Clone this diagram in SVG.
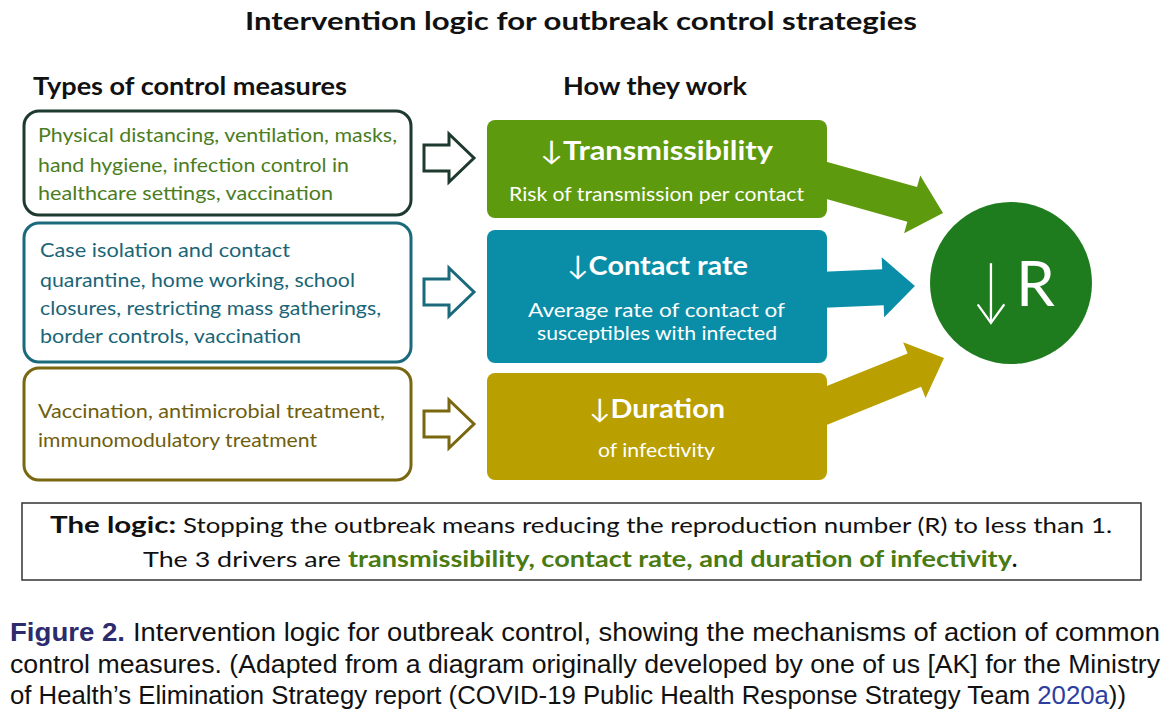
<svg xmlns="http://www.w3.org/2000/svg" width="1170" height="717" viewBox="0 0 1170 717">
<style>
.f{font-family:Lato,"Liberation Sans",sans-serif}
.hd{font-family:Lato,"Liberation Sans",sans-serif;font-weight:bold;font-size:24px;fill:#111}
.lb{fill:#fff;stroke-width:3}
.lt{font-family:Lato,"Liberation Sans",sans-serif;font-size:19px}
.mt{font-family:Lato,"Liberation Sans",sans-serif;font-weight:bold;font-size:27px;fill:#fff}
.ms{font-family:Lato,"Liberation Sans",sans-serif;font-size:19px;fill:#fff}
.ha{fill:#fff;stroke-width:3;stroke-linejoin:miter}
.lg{font-family:Lato,"Liberation Sans",sans-serif;font-size:22px;fill:#111}
.lgg{font-family:Lato,"Liberation Sans",sans-serif;font-size:22px;font-weight:bold;fill:#4a7a12}
.cp{font-family:"Liberation Sans",sans-serif;font-size:25px;fill:#111}
.cpf{font-family:"Liberation Sans",sans-serif;font-size:25px;font-weight:bold;fill:#2b2b6e}
.blue{fill:#2d3ea0}
</style>
<rect width="1170" height="717" fill="#fff"/>
<text class="hd" x="245" y="30" textLength="672" lengthAdjust="spacingAndGlyphs">Intervention logic for outbreak control strategies</text>
<text class="hd" x="33" y="95" textLength="314" lengthAdjust="spacingAndGlyphs">Types of control measures</text>
<text class="hd" x="563" y="95" textLength="184" lengthAdjust="spacingAndGlyphs">How they work</text>

<g id="connectors">
<polygon points="0,-18 97.8,-18 97.8,-30 129.8,0 97.8,30 97.8,18 0,18" fill="#5e9a0e" transform="translate(818,178) rotate(15.6)"/>
<polygon points="0,-18 65,-18 65,-30 97,0 65,30 65,18 0,18" fill="#0a8ea8" transform="translate(818,290) rotate(-2.36)"/>
<polygon points="0,-18 103.9,-18 103.9,-30 135.9,0 103.9,30 103.9,18 0,18" fill="#b9a000" transform="translate(818,409) rotate(-22)"/>
<polygon class="ha" stroke="#1e3a2e" points="424,145 449,145 449,134 474,158 449,182 449,171 424,171"/>
<polygon class="ha" stroke="#1a6a7c" points="424,279 449,279 449,268 474,292 449,316 449,305 424,305"/>
<polygon class="ha" stroke="#7a6810" points="424,411 449,411 449,400 474,424 449,448 449,437 424,437"/>
</g>

<g id="measures-transmissibility">
<rect class="lb" stroke="#1e3a2e" x="24" y="111" width="387" height="104" rx="15"/>
<text class="lt" fill="#4b7d1e"><tspan x="38" y="142" textLength="359" lengthAdjust="spacingAndGlyphs">Physical distancing, ventilation, masks,</tspan><tspan x="38" y="172" textLength="311" lengthAdjust="spacingAndGlyphs">hand hygiene, infection control in</tspan><tspan x="38" y="200" textLength="295" lengthAdjust="spacingAndGlyphs">healthcare settings, vaccination</tspan></text>
</g>
<g id="measures-contact">
<rect class="lb" stroke="#1a6a7c" x="24" y="223" width="387" height="139" rx="15"/>
<text class="lt" fill="#1a6577"><tspan x="40" y="257" textLength="250" lengthAdjust="spacingAndGlyphs">Case isolation and contact</tspan><tspan x="40" y="287" textLength="315" lengthAdjust="spacingAndGlyphs">quarantine, home working, school</tspan><tspan x="40" y="315" textLength="341" lengthAdjust="spacingAndGlyphs">closures, restricting mass gatherings,</tspan><tspan x="40" y="343" textLength="261" lengthAdjust="spacingAndGlyphs">border controls, vaccination</tspan></text>
</g>
<g id="measures-duration">
<rect class="lb" stroke="#7a6810" x="24" y="368" width="387" height="112" rx="15"/>
<text class="lt" fill="#6e5e10"><tspan x="38" y="418" textLength="347" lengthAdjust="spacingAndGlyphs">Vaccination, antimicrobial treatment,</tspan><tspan x="38" y="447" textLength="279" lengthAdjust="spacingAndGlyphs">immunomodulatory treatment</tspan></text>
</g>

<g id="transmissibility">
<rect x="487" y="120" width="340" height="98" rx="8" fill="#5e9a0e"/>
<text class="mt" x="540" y="160" textLength="233" lengthAdjust="spacingAndGlyphs"><tspan font-weight="normal">↓</tspan>Transmissibility</text>
<text class="ms" x="509" y="201" textLength="295" lengthAdjust="spacingAndGlyphs">Risk of transmission per contact</text>
</g>
<g id="contact-rate">
<rect x="487" y="230" width="340" height="133" rx="8" fill="#0a8ea8"/>
<text class="mt" x="567" y="275" textLength="181" lengthAdjust="spacingAndGlyphs"><tspan font-weight="normal">↓</tspan>Contact rate</text>
<text class="ms" x="528" y="317" textLength="257" lengthAdjust="spacingAndGlyphs">Average rate of contact of</text>
<text class="ms" x="537" y="340" textLength="240" lengthAdjust="spacingAndGlyphs">susceptibles with infected</text>
</g>
<g id="duration">
<rect x="487" y="373" width="340" height="107" rx="8" fill="#b9a000"/>
<text class="mt" x="589" y="418" textLength="136" lengthAdjust="spacingAndGlyphs"><tspan font-weight="normal">↓</tspan>Duration</text>
<text class="ms" x="598" y="457" textLength="117" lengthAdjust="spacingAndGlyphs">of infectivity</text>
</g>
<g id="reduce-r">
<circle cx="1011" cy="283" r="81" fill="#1e7c1e"/>
<text class="f" transform="translate(991,313) scale(1.15,1.6)" font-size="44" font-weight="300" fill="#fff" text-anchor="middle">↓</text>
<text class="f" x="1016" y="306" font-size="62" fill="#fff">R</text>
</g>

<g id="logic">
<rect x="22" y="503" width="1119" height="77" fill="#fff" stroke="#333" stroke-width="1.5"/>
<text class="lg" x="50" y="533" font-weight="bold" textLength="126" lengthAdjust="spacingAndGlyphs">The logic:</text>
<text class="lg" x="183" y="533" textLength="929" lengthAdjust="spacingAndGlyphs">Stopping the outbreak means reducing the reproduction number (R) to less than 1.</text>
<text class="lg" x="143" y="567" textLength="198" lengthAdjust="spacingAndGlyphs">The 3 drivers are</text>
<text class="lgg" x="348" y="567" textLength="664" lengthAdjust="spacingAndGlyphs">transmissibility, contact rate, and duration of infectivity</text>
<text class="lg" x="1012" y="567" font-weight="bold">.</text>
</g>

<g id="caption">
<text class="cpf" x="10" y="641" textLength="115" lengthAdjust="spacingAndGlyphs">Figure 2.</text>
<text class="cp" x="133" y="641" textLength="1027" lengthAdjust="spacingAndGlyphs">Intervention logic for outbreak control, showing the mechanisms of action of common</text>
<text class="cp" x="10" y="673" textLength="1150" lengthAdjust="spacingAndGlyphs">control measures. (Adapted from a diagram originally developed by one of us [AK] for the Ministry</text>
<text class="cp" x="10" y="704" textLength="1116" lengthAdjust="spacingAndGlyphs">of Health’s Elimination Strategy report (COVID-19 Public Health Response Strategy Team <tspan class="blue">2020a</tspan>))</text>
</g>
</svg>
